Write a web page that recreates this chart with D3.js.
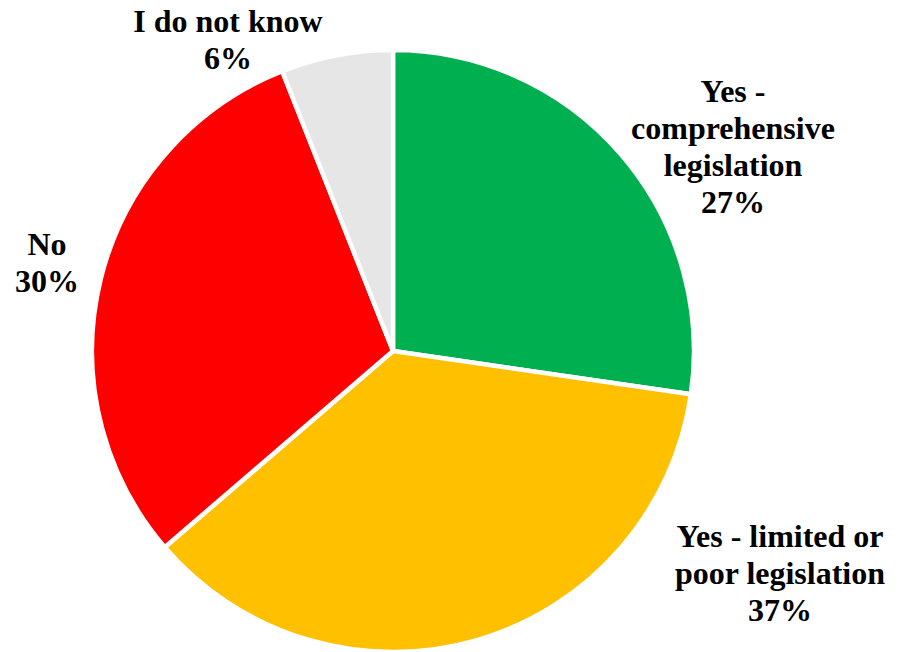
<!doctype html>
<html lang="en">
<head>
  <meta charset="utf-8">
  <title>Legislation pie</title>
  <script src="https://d3js.org/d3.v7.min.js"></script>
  <style>
    html, body { margin: 0; padding: 0; background: #fff; }
    text { font-family: "Liberation Serif", "Times New Roman", serif; font-weight: bold; font-size: 32px; fill: #000; }
  </style>
</head>
<body>
  <div id="chart"></div>
  <script>
    // Data ------------------------------------------------------------------
    const categories = ["Yes - comprehensive legislation", "Yes - limited or poor legislation", "No", "I do not know"];
    // slice shares as read from the slice boundaries
    const values = [27.3, 36.4, 30.3, 6.0];
    // percentages as printed on the chart
    const pctLabels = ["27%", "37%", "30%", "6%"];
    const colors = ["#00B050", "#FFC000", "#FF0000", "#E7E6E6"];
    const labelLines = [
      ["Yes -", "comprehensive", "legislation"],
      ["Yes - limited or", "poor legislation"],
      ["No"],
      ["I do not know"]
    ];
    // label anchor: centre x and first baseline y
    const labelPos = [[733, 102], [780, 547], [47, 255], [228, 32]];

    // Canvas ----------------------------------------------------------------
    const width = 897, height = 652;
    const cx = 393, cy = 351, radius = 301;
    const lineHeight = 37;

    const svg = d3.select("#chart").append("svg")
      .attr("width", width)
      .attr("height", height);

    const data = categories.map((c, i) => ({
      name: c, value: values[i], pct: pctLabels[i], color: colors[i], lines: labelLines[i], pos: labelPos[i]
    }));

    const pie = d3.pie().sort(null).value(d => d.value);
    const arc = d3.arc().innerRadius(0).outerRadius(radius);

    const g = svg.append("g").attr("transform", `translate(${cx},${cy})`);

    g.selectAll("path")
      .data(pie(data))
      .join("path")
      .attr("d", arc)
      .attr("fill", d => d.data.color)
      .attr("stroke", "#fff")
      .attr("stroke-width", 4.5)
      .attr("stroke-linejoin", "round");

    // Labels ----------------------------------------------------------------
    const labels = svg.selectAll("text.label")
      .data(data)
      .join("text")
      .attr("class", "label")
      .attr("text-anchor", "middle");

    labels.each(function(d) {
      const t = d3.select(this);
      d.lines.concat([d.pct]).forEach((line, i) => {
        t.append("tspan")
          .attr("x", d.pos[0])
          .attr("y", d.pos[1] + i * lineHeight)
          .text(line);
      });
    });
  </script>
</body>
</html>
